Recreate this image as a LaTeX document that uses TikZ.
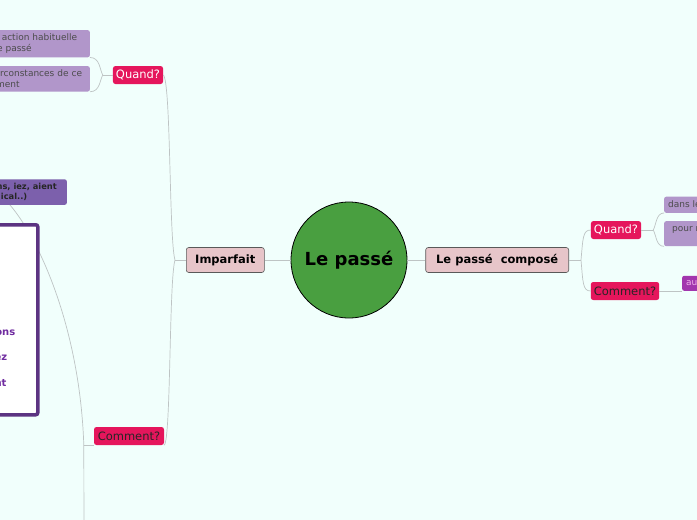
\documentclass[tikz,border=0pt]{standalone}
\usepackage{fontspec}
\setmainfont{DejaVu Sans}
\usepackage{xcolor}
\usepackage{tikz}
\usetikzlibrary{positioning}
\definecolor{mapbg}{RGB}{241,255,252}
\definecolor{passegreen}{RGB}{73,159,64}
\definecolor{topicpink}{RGB}{231,197,201}
\definecolor{askred}{RGB}{229,22,92}
\definecolor{leafpurple}{RGB}{177,150,202}
\definecolor{termpurple}{RGB}{124,96,172}
\definecolor{tabpurple}{RGB}{92,52,130}
\definecolor{verbpurple}{RGB}{112,44,160}
\definecolor{auxmagenta}{RGB}{162,54,174}
\definecolor{auxpink}{RGB}{240,180,235}
\definecolor{linkgray}{RGB}{190,196,196}

\begin{document}
\begin{tikzpicture}[x=1pt, y=-1pt, every node/.style={font=\fontsize{9}{11}\selectfont},
      centre/.style={circle, draw=black, line width=0.8pt, fill=passegreen,
                     minimum size=116pt, font=\fontsize{18}{21}\selectfont\bfseries},
      topic/.style={draw=black!65, line width=0.6pt, rounded corners=2.5pt, fill=topicpink,
                    minimum height=25pt, font=\fontsize{11.5}{13}\selectfont\bfseries},
      ask/.style={rounded corners=2.5pt, fill=askred, minimum height=18pt, inner xsep=3pt,
                  font=\fontsize{11.5}{13}\selectfont},
      leaf/.style={rounded corners=2pt, fill=leafpurple, text=black!70, inner xsep=6pt, inner ysep=3.5pt},
      link/.style={draw=linkgray, line width=0.7pt}]
    \useasboundingbox (0,0) rectangle (697,520);
    \clip (0,0) rectangle (697,520);
    \fill[mapbg] (0,0) rectangle (697,520);

    \node[centre] (passe) at (349,260) {Le passé};
    \node[topic, minimum width=78pt, left=26pt of passe] (imparfait) {Imparfait};
    \node[topic, minimum width=143pt, right=18pt of passe] (compose) {Le passé\ \ composé};

    % imparfait
    \node[ask, text=white, minimum width=50pt] (quandL) at (138,75) {Quand?};
    \node[ask, text=black!85, minimum width=70pt] (commentL) at (129,436) {Comment?};
    \node[leaf, text width=166pt, align=center, anchor=north east] (habitude) at (90,30)
        {Pour décrire une action habituelle\\ dans le passé};
    \node[leaf, text width=166pt, align=center, anchor=north east] (circonstance) at (90,66)
        {Pour décrire les circonstances de ce\\ moment};
    \node[leaf, fill=termpurple, text=black!85, align=center, inner xsep=10pt, inner ysep=4pt,
          font=\fontsize{8.3}{10}\selectfont\bfseries, anchor=south east] (terminaison) at (67,205)
        {ais, ais, ait, ions, iez, aient\\ (+ le radical..)};

    \coordinate[left=10pt of commentL.south west] (jC);
    \coordinate (suite) at (84,540);
    \draw[link] (commentL.south west) -- (jC);
    \draw[link] (jC) -- (suite);
    \draw[link] (jC) .. controls (80,330) and (40,240) .. ([xshift=-57pt]terminaison.south east);

    \node[draw=tabpurple, line width=3.5pt, rounded corners=2pt, fill=white, text=verbpurple,
          align=left, font=\fontsize{10}{25.5}\selectfont\bfseries, inner xsep=22.5pt,
          minimum height=190pt, anchor=north east] (tableau) at (39.5,223)
        {je parlais\\ tu parlais\\ il parlait\\ nous parlions\\ vous parliez\\ ils parlaient};

    \coordinate[left=11pt of imparfait] (jL);
    \coordinate[left=10pt of quandL] (jQ);
    \draw[link] (imparfait) -- (passe);
    \draw[link] (imparfait.west) -- (jL);
    \draw[link] (jL) .. controls (169,240) and (171,80) .. (quandL.east);
    \draw[link] (jL) .. controls (169,280) and (171,440) .. (commentL.south east);
    \draw[link] (quandL.west) -- (jQ);
    \draw[link] (jQ) .. controls +(-3,-5) and +(10,0) .. (habitude.south east);
    \draw[link] (jQ) .. controls +(-3,5) and +(10,0) .. (circonstance.south east);

    % passe compose
    \node[ask, text=white, minimum width=50pt] (quandR) at (616,230) {Quand?};
    \node[ask, text=black!85, minimum width=68pt] (commentR) at (625,291) {Comment?};
    \node[leaf, inner xsep=4pt, minimum height=16pt, anchor=south west] (dansle) at (664,213)
        {dans le passé};
    \node[leaf, align=center, inner xsep=8pt, anchor=north west] (raconter) at (664,221)
        {pour raconter une action\\ courte et finie};
    \node[leaf, fill=auxmagenta, text=auxpink, inner xsep=4pt, inner ysep=2pt, minimum height=15pt,
          anchor=south west] (auxiliaire) at (682,291) {auxiliaire + participe passé};

    \coordinate[right=12pt of compose] (jR);
    \coordinate[right=12pt of quandR] (jQR);
    \draw[link] (compose) -- (passe);
    \draw[link] (compose.east) -- (jR);
    \draw[link] (jR) .. controls +(2,-22) and +(-8,0) .. (quandR.west);
    \draw[link] (jR) .. controls +(2,22) and +(-8,0) .. (commentR.west);
    \draw[link] (quandR.east) -- (jQR);
    \draw[link] (jQR) .. controls +(3,-5) and +(-8,0) .. (dansle.south west);
    \draw[link] (jQR) .. controls +(3,5) and +(-8,0) .. (raconter.south west);
    \draw[link] (commentR.east) -- (auxiliaire.south west);
  \end{tikzpicture}
\end{document}
